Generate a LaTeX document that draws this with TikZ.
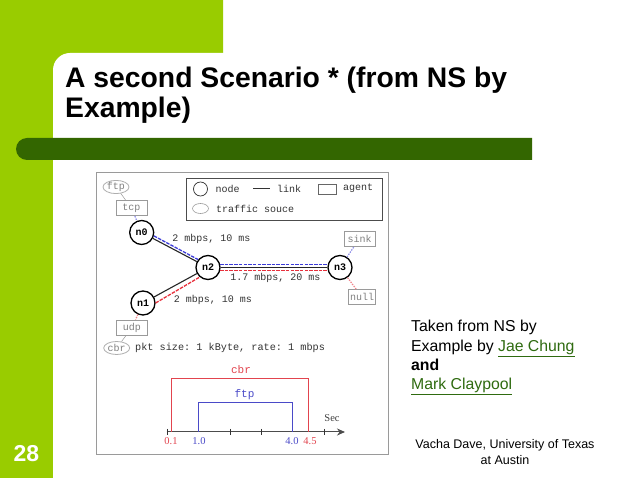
\documentclass[tikz,border=0pt]{standalone}
\usepackage{fontspec}
\setmainfont{Liberation Sans}
\newfontfamily\mymono{Liberation Mono}
\newfontfamily\myserif{Liberation Serif}
\usetikzlibrary{arrows.meta,calc,shapes.geometric}
\definecolor{lime}{HTML}{99CC00}
\definecolor{darkbar}{HTML}{336600}
\definecolor{linkgreen}{HTML}{2F6B10}
\definecolor{figgray}{HTML}{9A9A9A}
\definecolor{figtext}{HTML}{333333}
\definecolor{figred}{HTML}{E2444E}
\definecolor{figblue}{HTML}{4A4AC8}
\definecolor{dashred}{HTML}{E8303C}
\definecolor{dashblue}{HTML}{3C3CD8}
\tikzset{
  x=1pt,y=-1pt,
  netnode/.style={circle,draw=black,line width=1.3pt,fill=white,minimum size=24pt,inner sep=0pt,font=\mymono\bfseries\fontsize{10}{10}\selectfont},
  agentbox/.style={rectangle,draw=figgray,line width=.8pt,fill=white,inner sep=0pt,text=gray,font=\mymono\fontsize{10}{10}\selectfont},
  srcell/.style={ellipse,draw=figgray!80,line width=.8pt,fill=white,inner sep=0pt,text=gray,minimum width=26pt,minimum height=13pt,font=\mymono\fontsize{10}{10}\selectfont},
  figlabel/.style={inner sep=0pt,text=figtext,font=\mymono\fontsize{10}{10}\selectfont},
  linkline/.style={line width=1.1pt,draw=black!85},
  bluedash/.style={line width=1.3pt,draw=dashblue,dash pattern=on 3.5pt off 1.2pt},
  reddash/.style={line width=1.3pt,draw=dashred,dash pattern=on 3.5pt off 1.2pt},
  agentdash/.style={line width=1.2pt,dash pattern=on 1.4pt off 1.2pt},
  slidetext/.style={anchor=base west,inner sep=0pt,font=\fontsize{15.8}{15.8}\selectfont},
  titletext/.style={anchor=base west,inner sep=0pt,font=\bfseries\fontsize{28.3}{28.3}\selectfont},
  foottext/.style={anchor=base,inner sep=0pt,font=\fontsize{12.5}{12.5}\selectfont},
  axistick/.style={line width=.7pt,draw=black!80},
}
\begin{document}
\frenchspacing
\begin{tikzpicture}
\useasboundingbox (0,0) rectangle (638,478);
\fill[white] (0,0) rectangle (638,478);
% slide background
\fill[lime] (0,0) rectangle (223,53) (0,53) rectangle (53,478);
\fill[lime] (53,53) rectangle (70,70);
\fill[white] (53,478) -- (53,70) arc[start angle=180,end angle=90,x radius=17,y radius=-17] -- (223,53) -- (223,70) -- (70,70) -- (70,478) -- cycle;
\fill[darkbar] (532,138) -- (27,138) arc[start angle=90,end angle=270,radius=11,y radius=-11] -- (532,160) -- cycle;
% title
\node[titletext] (t1) at (65,87.3) {A second Scenario * (from NS by};
\node[titletext] (t2) at (65,117.7) {Example)};
% figure frame
\draw[figgray,line width=1pt] (96,172.5) rectangle (388,454.5);
% legend
\draw[black!70,line width=.9pt] (186,178) rectangle (382,220);
\draw[black!80,line width=.7pt] (200.5,189) circle[radius=7];
\node[figlabel,anchor=west] (lg1) at (215.5,189) {node};
\draw[black!80,line width=.9pt] (253,188.5) -- (270,188.5);
\node[figlabel,anchor=west] (lg2) at (277,188.5) {link};
\draw[black!60,line width=.6pt] (318,184) rectangle (336,194);
\node[figlabel,anchor=west] (lg3) at (343,188.5) {agent};
\draw[figgray,line width=.6pt] (200.5,208.5) ellipse[x radius=8,y radius=5];
\node[figlabel,anchor=west] (lg4) at (216,209) {traffic souce};
% network nodes
\node[netnode] (n0) at (141.7,232.5) {n0};
\node[netnode] (n1) at (143,303) {n1};
\node[netnode] (n2) at (208,267.5) {n2};
\node[netnode] (n3) at (340,267.5) {n3};
\node[agentbox,minimum width=31pt,minimum height=15.5pt] (tcp) at (131.5,208) {tcp};
\node[agentbox,minimum width=31pt,minimum height=15pt] (sink) at (359.5,238.5) {sink};
\node[agentbox,minimum width=27pt,minimum height=14.5pt] (null) at (362,297) {null};
\node[agentbox,minimum width=31pt,minimum height=15pt] (udp) at (132,327.5) {udp};
\node[srcell] (ftp) at (116,187) {ftp};
\node[srcell] (cbr) at (116.7,348) {cbr};
% links
\draw[linkline] (n0) -- (n2);
\draw[linkline] (n1) -- (n2);
\draw[linkline] (n2) -- (n3);
\draw[bluedash] ($(n0)+(12.2,3.4)$) -- ($(n2)+(-10,-8)$);
\draw[reddash] ($(n1)+(12.6,0)$) -- ($(n2)+(-9,10)$);
\draw[bluedash] ($(n2)+(12,-2.7)$) -- ($(n3)+(-12,-2.7)$);
\draw[reddash] ($(n2)+(12,2.7)$) -- ($(n3)+(-12,2.7)$);
\draw[agentdash,dashblue!60] (tcp) -- (n0);
\draw[agentdash,dashblue!60] (n3) -- (sink);
\draw[agentdash,dashred!60] (n3) -- (null);
\draw[agentdash,dashred!60] (n1) -- (udp);
\draw[figgray,line width=.5pt] (ftp) -- (tcp);
\draw[figgray,line width=.5pt] (udp) -- (cbr);
% labels
\node[figlabel] (l1) at (211.5,239) {2 mbps, 10 ms};
\node[figlabel] (l2) at (275.5,278) {1.7 mbps, 20 ms};
\node[figlabel] (l3) at (213,299.5) {2 mbps, 10 ms};
\node[figlabel,anchor=west,text=black!80,font=\mymono\fontsize{10.2}{10.2}\selectfont] (l4) at (135,348) {pkt size: 1 kByte, rate: 1 mbps};
% timeline
\coordinate (axl) at (166.5,432);
\coordinate (axr) at (345,432);
\draw[black!70,line width=1pt,-{Stealth[length=8pt,width=7pt]}] (axl) -- (axr);
\foreach \tx in {167,230,261,324}
  \draw[axistick] (\tx,429) -- (\tx,435);
\coordinate (c0) at (171,432);
\coordinate (c1) at (171,378);
\coordinate (c2) at (308,378);
\coordinate (c3) at (308,432);
\draw[figred,line width=.8pt] (c0) -- (c1) -- (c2) -- (c3);
\coordinate (f0) at (198.5,432);
\coordinate (f1) at (198.5,402.5);
\coordinate (f2) at (292.5,402.5);
\coordinate (f3) at (292.5,432);
\draw[figblue,line width=.8pt] (f0) -- (f1) -- (f2) -- (f3);
\node[inner sep=0pt,text=figred,font=\mymono\fontsize{11}{11}\selectfont] (cbrl) at (241,369.5) {cbr};
\node[inner sep=0pt,text=figblue,font=\mymono\fontsize{11}{11}\selectfont] (ftpl) at (244.5,395) {ftp};
\node[inner sep=0pt,text=black!75,font=\myserif\fontsize{10.5}{10.5}\selectfont] (sec) at (332,418) {Sec};
\foreach \nm/\tx/\px/\cl in {a/0.1/171/figred,b/1.0/199/figblue,c/4.0/292/figblue,d/4.5/310/figred}
  \node[inner sep=0pt,text=\cl,font=\myserif\fontsize{10.5}{10.5}\selectfont] (tick\nm) at (\px,441) {\tx};
% side text
\node[slidetext] (s1) at (411,332) {Taken from NS by};
\node[slidetext] (s2) at (411,352) {Example by \textcolor{linkgreen}{\underline{Jae Chung}}};
\node[slidetext,font=\bfseries\fontsize{15.8}{15.8}\selectfont] (s3) at (411,371) {and};
\node[slidetext] (s4) at (411,390) {\textcolor{linkgreen}{\underline{Mark Claypool}}};
\node[foottext] (f1t) at (505,449) {Vacha Dave, University of Texas};
\node[foottext] (f2t) at (505,464.5) {at Austin};
\node[anchor=base west,inner sep=0pt,text=white,font=\bfseries\fontsize{23}{23}\selectfont] (num) at (13.5,462) {28};
\end{tikzpicture}
\end{document}
